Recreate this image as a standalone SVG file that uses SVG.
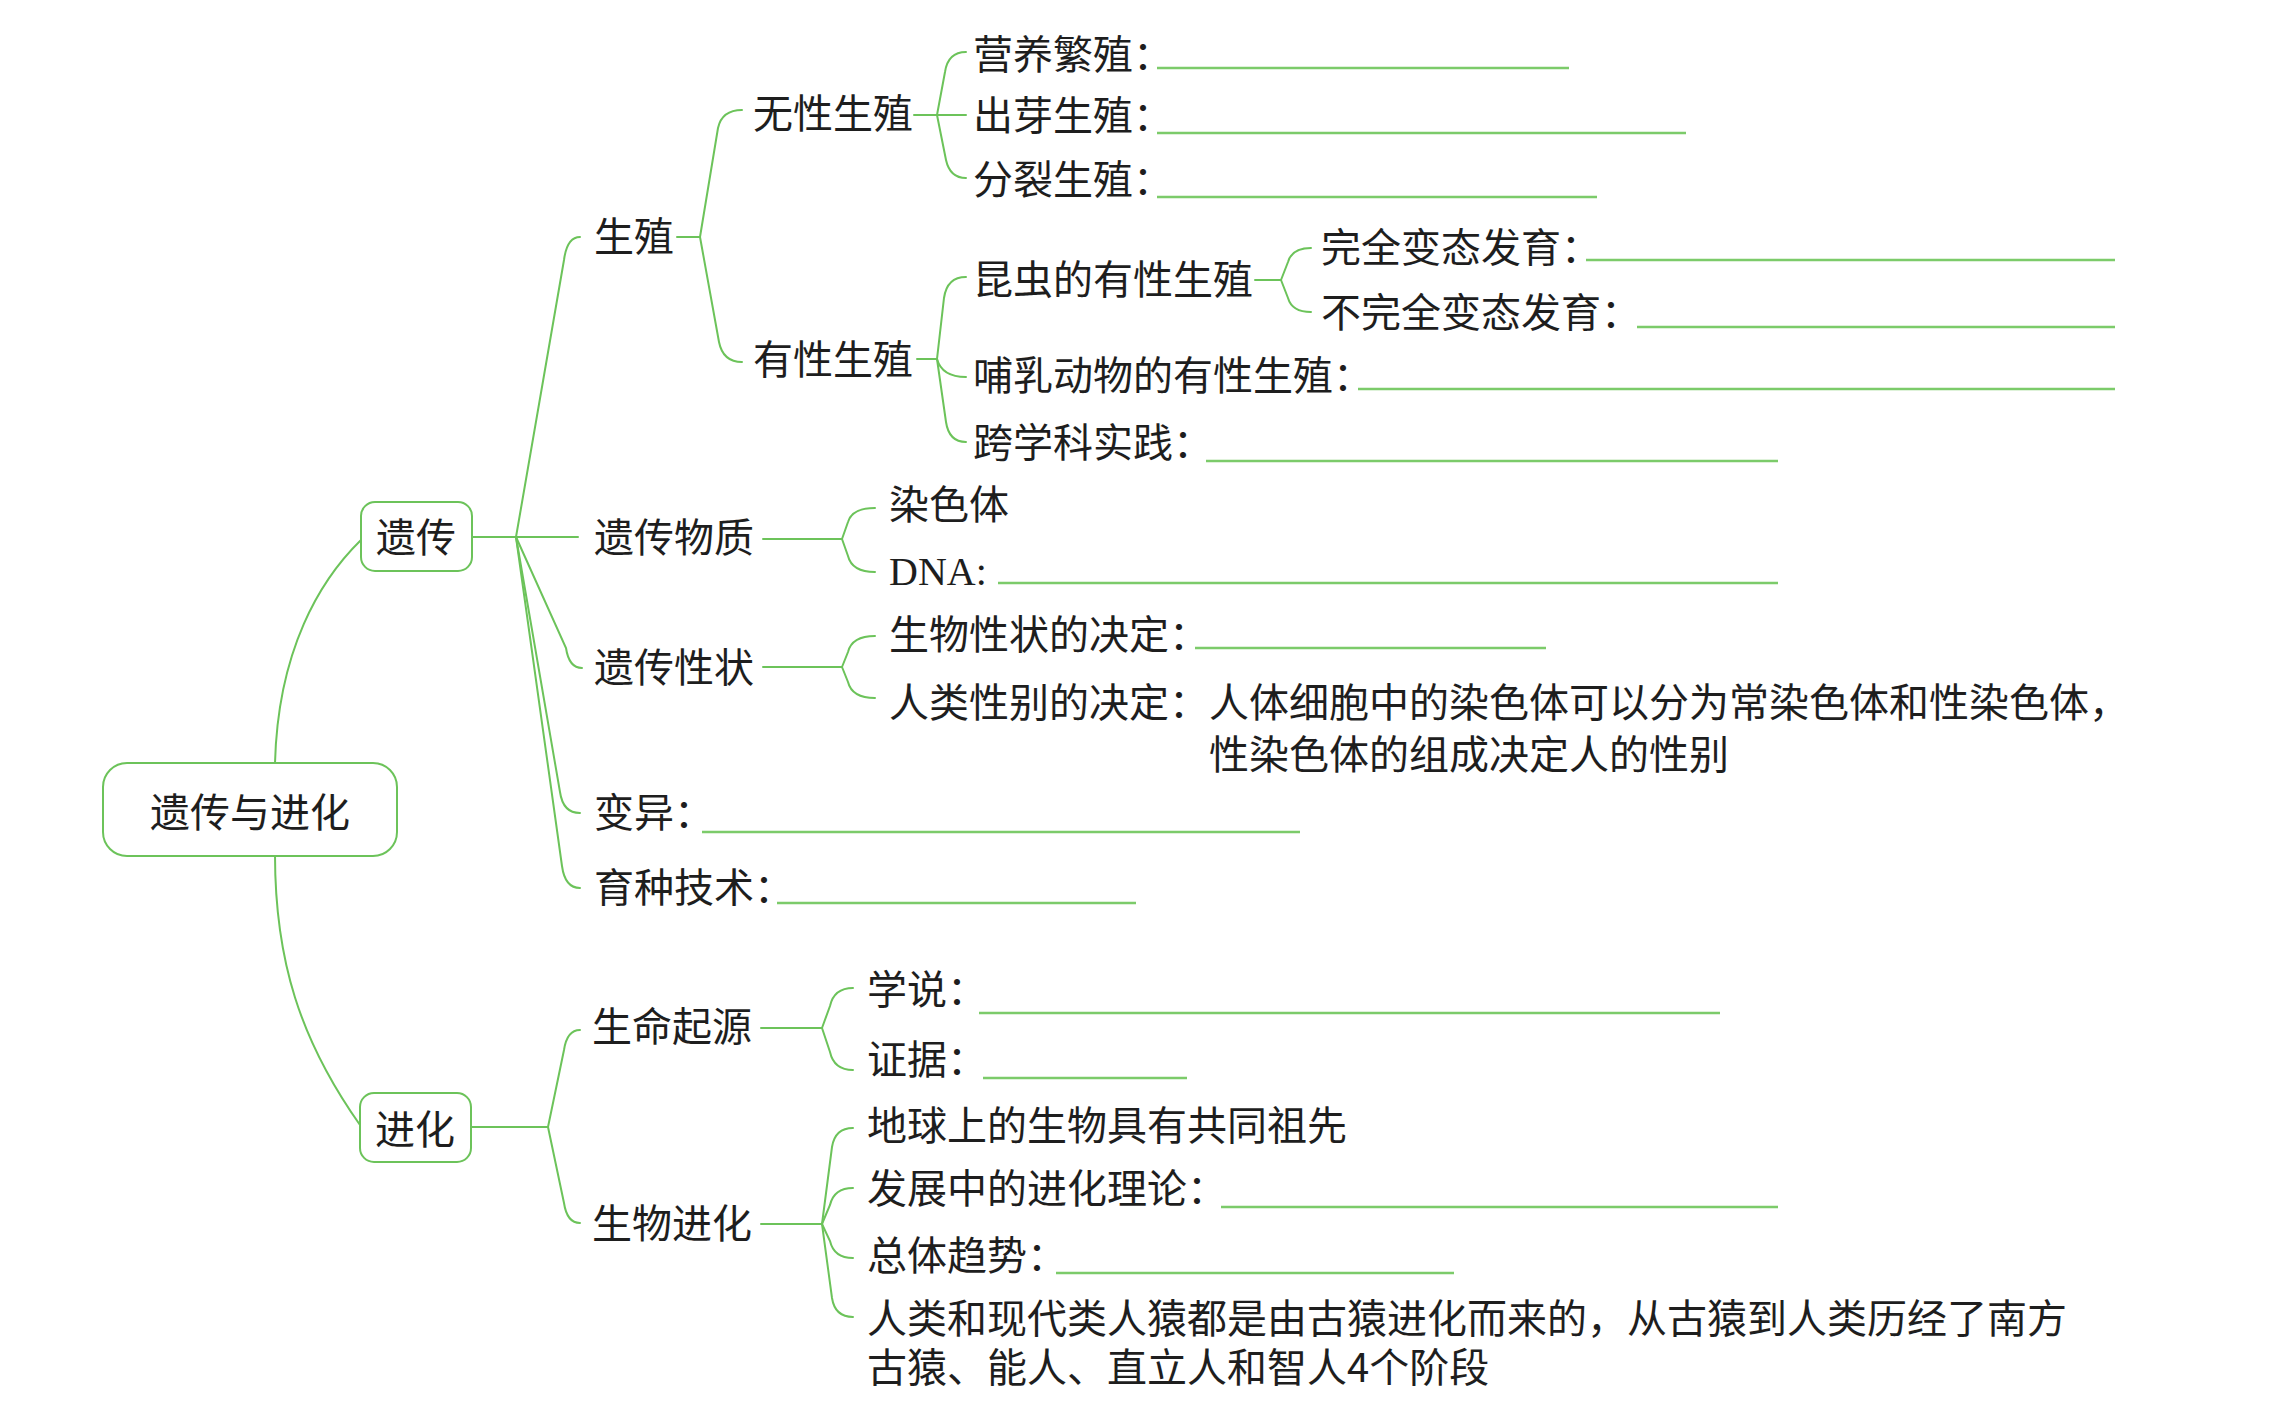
<svg xmlns="http://www.w3.org/2000/svg" width="2282" height="1425" viewBox="0 0 2282 1425">
<style>
text{font-family:"Noto Sans CJK SC","Noto Sans CJK JP",sans-serif;font-size:40px;fill:#1e1e1e}
.en{font-family:"Liberation Serif","Noto Sans CJK SC",serif}
.box{fill:#ffffff;stroke:#6cc35a;stroke-width:2}
.conn path{fill:none;stroke:#6cc35a;stroke-width:2;stroke-linecap:round}
.blank line{stroke:#7ccb6a;stroke-width:2.4}
</style>
<rect width="2282" height="1425" fill="#ffffff"/>
<g id="connectors" class="conn">
<path d="M275 763 C278 650 320 580 361 540"/>
<path d="M275 855 C275 960 300 1040 360 1125"/>
<path d="M472 537 L578 537"/>
<path d="M516 537 L564 260 Q567 237 580 237"/>
<path d="M516 537 L566 648 Q569 668 582 668"/>
<path d="M516 537 L560 792 Q563 813 580 813"/>
<path d="M516 537 L562 866 Q565 888 580 888"/>
<path d="M677 237 L700 237"/>
<path d="M700 237 L718 128 Q722 110 742 110"/>
<path d="M700 237 L719 342 Q723 362 742 362"/>
<path d="M914 115 L966 115"/>
<path d="M937 115 L945 72 Q948 52 966 52"/>
<path d="M937 115 L946 160 Q950 178 966 178"/>
<path d="M917 359 L937 359"/>
<path d="M937 359 L944 298 Q947 277 966 277"/>
<path d="M937 359 Q942 377 966 377"/>
<path d="M937 359 L946 422 Q949 442 966 442"/>
<path d="M1255 280 L1281 280"/>
<path d="M1281 280 L1288 262 Q1292 248 1311 248"/>
<path d="M1281 280 L1288 298 Q1292 312 1311 312"/>
<path d="M763 539 L842 539"/>
<path d="M842 539 L848 522 Q852 508 875 508"/>
<path d="M842 539 L848 556 Q852 572 875 572"/>
<path d="M763 667 L842 667"/>
<path d="M842 667 L848 652 Q852 636 875 636"/>
<path d="M842 667 L848 682 Q852 698 875 698"/>
<path d="M471 1127 L548 1127"/>
<path d="M548 1127 L564 1050 Q567 1030 580 1030"/>
<path d="M548 1127 L564 1203 Q567 1223 580 1223"/>
<path d="M761 1028 L822 1028"/>
<path d="M822 1028 L830 1006 Q834 988 853 988"/>
<path d="M822 1028 L830 1052 Q834 1070 853 1070"/>
<path d="M761 1224 L822 1224"/>
<path d="M822 1224 L832 1147 Q835 1128 853 1128"/>
<path d="M822 1224 L830 1205 Q834 1188 853 1188"/>
<path d="M822 1224 L830 1241 Q834 1258 853 1258"/>
<path d="M822 1224 L832 1298 Q835 1317 853 1317"/>
</g>
<g id="blanks" class="blank">
<line x1="1157" y1="68" x2="1569" y2="68"/>
<line x1="1157" y1="133" x2="1686" y2="133"/>
<line x1="1157" y1="197" x2="1597" y2="197"/>
<line x1="1586" y1="260" x2="2115" y2="260"/>
<line x1="1637" y1="327" x2="2115" y2="327"/>
<line x1="1358" y1="389" x2="2115" y2="389"/>
<line x1="1206" y1="461" x2="1778" y2="461"/>
<line x1="998" y1="583" x2="1778" y2="583"/>
<line x1="1195" y1="648" x2="1546" y2="648"/>
<line x1="702" y1="832" x2="1300" y2="832"/>
<line x1="777" y1="903" x2="1136" y2="903"/>
<line x1="979" y1="1013" x2="1720" y2="1013"/>
<line x1="983" y1="1078" x2="1187" y2="1078"/>
<line x1="1221" y1="1207" x2="1778" y2="1207"/>
<line x1="1056" y1="1273" x2="1454" y2="1273"/>
</g>
<g id="root"><rect class="box" x="103" y="763" width="294" height="93" rx="24"/><text x="250" y="827" text-anchor="middle">遗传与进化</text></g>
<g id="yichuan"><rect class="box" x="361" y="502" width="111" height="69" rx="14"/><text x="416" y="552" text-anchor="middle">遗传</text></g>
<g id="jinhua"><rect class="box" x="360" y="1093" width="111" height="69" rx="14"/><text x="415" y="1144" text-anchor="middle">进化</text></g>
<g id="shengzhi"><text x="594" y="251">生殖</text></g>
<g id="wuxing"><text x="753" y="128">无性生殖</text></g>
<g id="yingyang"><text x="973" y="69">营养繁殖：</text></g>
<g id="chuya"><text x="973" y="130">出芽生殖：</text></g>
<g id="fenlie"><text x="973" y="194">分裂生殖：</text></g>
<g id="youxing"><text x="753" y="374">有性生殖</text></g>
<g id="kunchong"><text x="973" y="294">昆虫的有性生殖</text></g>
<g id="wanquan"><text x="1321" y="262">完全变态发育：</text></g>
<g id="buwanquan"><text x="1321" y="327">不完全变态发育：</text></g>
<g id="buru"><text x="973" y="390">哺乳动物的有性生殖：</text></g>
<g id="kuaxueke"><text x="973" y="457">跨学科实践：</text></g>
<g id="wuzhi"><text x="594" y="552">遗传物质</text></g>
<g id="ransetiti"><text x="889" y="519">染色体</text></g>
<g id="dna"><text x="889" y="585" class="en">DNA:</text></g>
<g id="xingzhuang"><text x="594" y="682">遗传性状</text></g>
<g id="juedingA"><text x="889" y="649">生物性状的决定：</text></g>
<g id="juedingB"><text x="889" y="717">人类性别的决定：人体细胞中的染色体可以分为常染色体和性染色体，<tspan x="1209" y="769">性染色体的组成决定人的性别</tspan></text></g>
<g id="bianyi"><text x="594" y="827">变异：</text></g>
<g id="yuzhong"><text x="594" y="902">育种技术：</text></g>
<g id="qiyuan"><text x="592" y="1041">生命起源</text></g>
<g id="xueshuo"><text x="867" y="1004">学说：</text></g>
<g id="zhengju"><text x="867" y="1074">证据：</text></g>
<g id="shengwujinhua"><text x="592" y="1238">生物进化</text></g>
<g id="gongtong"><text x="867" y="1140">地球上的生物具有共同祖先</text></g>
<g id="lilun"><text x="867" y="1203">发展中的进化理论：</text></g>
<g id="qushi"><text x="867" y="1270">总体趋势：</text></g>
<g id="renlei"><text x="867" y="1333">人类和现代类人猿都是由古猿进化而来的，从古猿到人类历经了南方<tspan x="867" y="1382">古猿、能人、直立人和智人4个阶段</tspan></text></g>
</svg>
